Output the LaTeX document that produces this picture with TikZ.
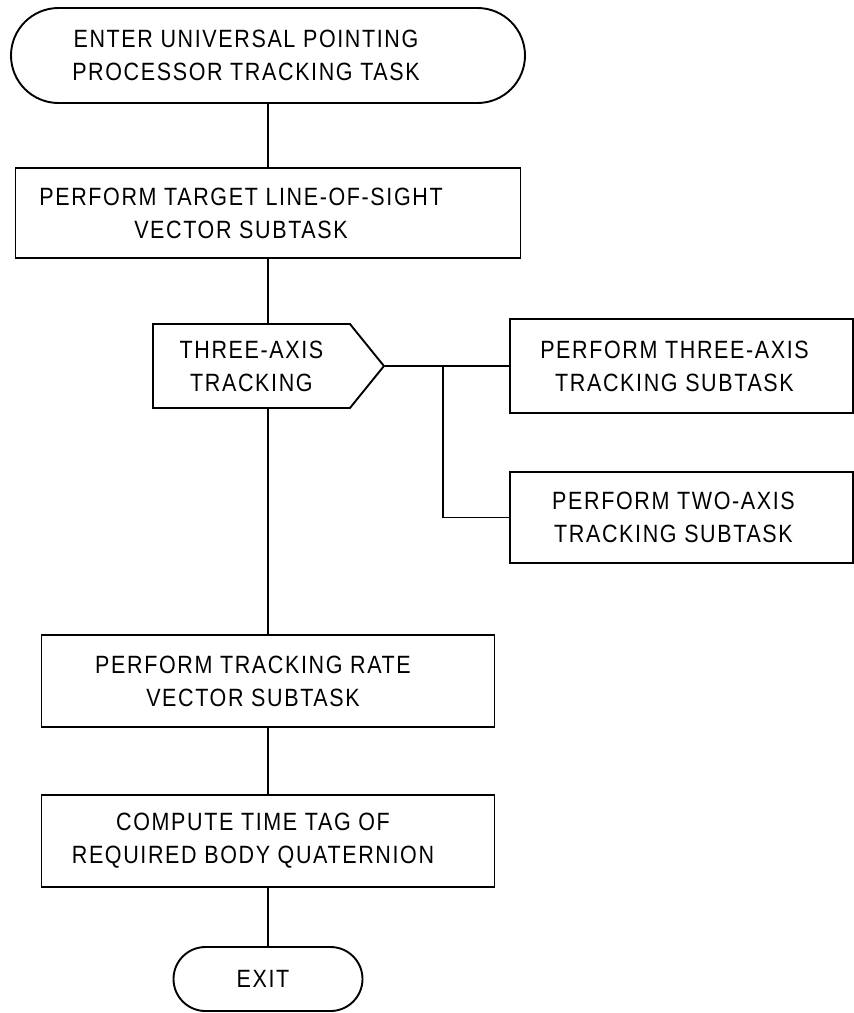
\documentclass[tikz,border=0pt]{standalone}
\usepackage{fontspec}
\setmainfont{Liberation Sans}[FakeStretch=0.86,LetterSpace=6.5]
\usetikzlibrary{shapes.misc,shapes.symbols}

\tikzset{
  txt/.style={align=center,inner sep=0pt,xshift=#1}
}

\begin{document}
\begin{tikzpicture}[x=1pt,y=-1pt,line width=1.9pt,
                    font=\fontsize{25}{33}\selectfont]
\useasboundingbox (0,0) rectangle (854,1013);
\begin{scope}[every node/.style={rounded rectangle,draw,inner sep=0pt}]
    \node[minimum width=514pt,minimum height=95pt,
          label={[txt=-22pt]center:ENTER UNIVERSAL POINTING\\PROCESSOR TRACKING TASK}] (S) at (268,55.5) {};
    \node[minimum width=189pt,minimum height=64pt,
          label={[txt=-5pt]center:EXIT}] (E) at (268,979) {};
\end{scope}
\begin{scope}[every node/.style={rectangle,draw,inner sep=0pt}]
    \node[minimum width=505pt,minimum height=90pt,
          label={[txt=-27pt]center:PERFORM TARGET LINE-OF-SIGHT\\VECTOR SUBTASK}] (B1) at (268,213) {};
    \node[minimum width=343pt,minimum height=94pt,
          label={[txt=-7pt]center:PERFORM THREE-AXIS\\TRACKING SUBTASK}] (RA) at (681.5,366) {};
    \node[minimum width=343pt,minimum height=91pt,
          label={[txt=-8pt]center:PERFORM TWO-AXIS\\TRACKING SUBTASK}] (RB) at (681.5,517.5) {};
    \node[minimum width=453pt,minimum height=92pt,
          label={[txt=-15pt]center:PERFORM TRACKING RATE\\VECTOR SUBTASK}] (B3) at (268,681) {};
    \node[minimum width=453pt,minimum height=92pt,
          label={[txt=-15pt]center:COMPUTE TIME TAG OF\\REQUIRED BODY QUATERNION}] (B4) at (268,841) {};
\end{scope}
\begin{scope}[every node/.style={signal,signal to=east,signal pointer angle=102,draw,align=center,inner sep=0pt}]
    \node[minimum width=231pt,minimum height=84pt,anchor=west] (D) at (152,366) {THREE-AXIS\\TRACKING};
\end{scope}
\coordinate (J) at (443,366);
\begin{scope}[every edge/.style={draw,line width=1.9pt}]
    \path [-] (S) edge (B1);
    \path [-] (B1) edge (B1 |- D.north);
    \path [-] (B3 |- D.south) edge (B3);
    \path [-] (B3) edge (B4);
    \path [-] (B4) edge (E);
    \path [-] (D.east) edge (RA.west);
    \draw (J) |- (RB.west);
\end{scope}
\end{tikzpicture}
\end{document}
